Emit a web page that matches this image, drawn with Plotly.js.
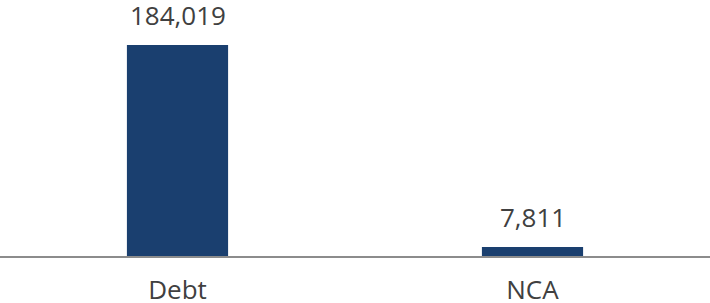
<!DOCTYPE html>
<html>
<head>
<meta charset="utf-8">
<script src="https://cdn.plot.ly/plotly-3.0.1.min.js"></script>
<style>html,body{margin:0;padding:0;background:#fff;}#chart{width:710px;height:303px;}</style>
</head>
<body>
<div id="chart"></div>
<script>
var categories = ["Debt", "NCA"];
var values = [184019, 7811];
var valueLabels = ["184,019", "7,811"];

var trace = {
  type: "bar",
  x: categories,
  y: values,
  marker: {color: "#1a3f6f"},
  width: 0.285,
  hoverinfo: "none"
};

var annotations = categories.map(function (c, i) {
  return {
    x: c, y: values[i], xref: "x", yref: "y",
    text: valueLabels[i], showarrow: false,
    yanchor: "bottom", yshift: 10,
    font: {family: "Open Sans", size: 26, color: "#404040"}
  };
});

var layout = {
  width: 710, height: 303,
  margin: {l: 0, r: 0, t: 0, b: 47},
  paper_bgcolor: "#fff", plot_bgcolor: "#fff",
  showlegend: false,
  xaxis: {
    type: "category", range: [-0.5, 1.5],
    showline: true, linecolor: "#8c8c8c", linewidth: 2,
    ticks: "", showgrid: false, zeroline: false,
    ticklabelstandoff: 10,
    tickfont: {family: "Open Sans", size: 26, color: "#404040"}
  },
  yaxis: {
    range: [0, 223265], visible: false, showgrid: false, zeroline: false
  },
  annotations: annotations
};

Plotly.newPlot("chart", [trace], layout, {displayModeBar: false, staticPlot: true});
</script>
</body>
</html>
